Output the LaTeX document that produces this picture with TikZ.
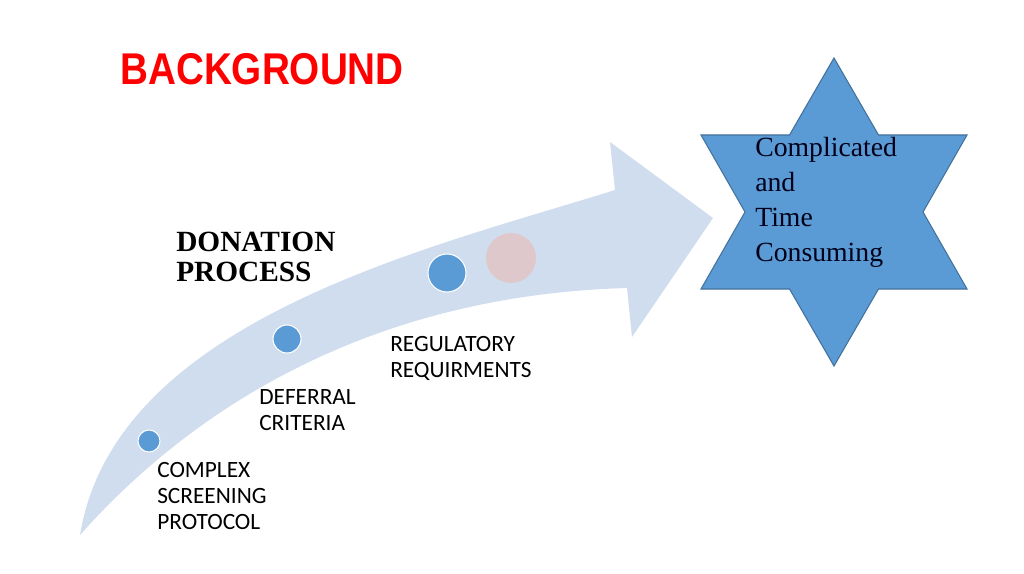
\documentclass[tikz,border=0pt]{standalone}
\usepackage{fontspec}
\setmainfont{Liberation Serif}
\newfontfamily\labelfont{Carlito}
\newfontfamily\titlefont{Liberation Sans}
\usepackage{graphicx}

\definecolor{arrowfill}{RGB}{208,221,238}
\definecolor{dotblue}{RGB}{91,155,213}
\definecolor{dotpink}{RGB}{222,200,204}
\definecolor{starblue}{RGB}{91,155,213}
\definecolor{staredge}{RGB}{65,113,156}
\definecolor{titlered}{RGB}{255,0,0}

\begin{document}
\begin{tikzpicture}[x=0.75pt, y=-0.75pt,
  stepdot/.style={circle, fill=dotblue, draw=white, line width=0.8pt, inner sep=0pt},
  steplabel/.style={anchor=north west, inner sep=0pt, align=left,
    font=\labelfont\fontsize{17.5}{19.5}\selectfont}]

  \useasboundingbox (0,0) rectangle (1024,574);

  % -- Title --
  \node[anchor=north west, inner sep=0pt, text=titlered,
    font=\titlefont\bfseries\fontsize{29}{30}\selectfont] (title) at (120,53)
    {\scalebox{1}[1.15]{BACKGROUND}};

  % -- Curved process arrow --
  \fill[arrowfill] (80,535) .. controls (115,320) and (430,248) .. (615,190)
    -- (610,142) -- (713,218) -- (632,337) -- (627,288)
    .. controls (380,295) and (200,400) .. (80,535) -- cycle;

  % -- Steps along the arrow --
  \node[stepdot, minimum size=16.5pt] (screen) at (149,441) {};
  \node[stepdot, minimum size=21pt] (deferral) at (287,339) {};
  \node[stepdot, minimum size=28.5pt] (regulatory) at (447,273) {};
  \node[circle, fill=dotpink, inner sep=0pt, minimum size=37.5pt] (next) at (511,258) {};

  \node[steplabel] (screenlabel) at (157,462) {COMPLEX\\SCREENING\\PROTOCOL};
  \node[steplabel] (deferrallabel) at (259,389) {DEFERRAL\\CRITERIA};
  \node[steplabel] (regulatorylabel) at (390,336) {REGULATORY\\REQUIRMENTS};

  \node[anchor=north west, inner sep=0pt, align=left,
    font=\bfseries\fontsize{22}{22.5}\selectfont] (process) at (176,232)
    {DONATION\\PROCESS};

  % -- Six-pointed star --
  \draw[fill=starblue, draw=staredge, line width=0.8pt]
    (834,58) -- (878.5,135) -- (967,135) -- (923,212) -- (967,289)
    -- (878.5,289) -- (834,366) -- (789.5,289) -- (701,289)
    -- (745,212) -- (701,135) -- (789.5,135) -- cycle;
  \node[anchor=north west, inner sep=0pt, align=left, text=black!90!blue,
    font=\fontsize{20.8}{26.25}\selectfont] (result) at (755,137)
    {Complicated\\and\\Time\\Consuming};

\end{tikzpicture}
\end{document}
